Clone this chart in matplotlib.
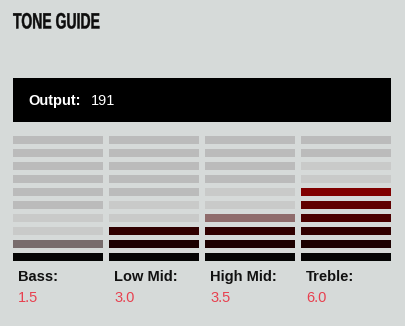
import numpy as np
import matplotlib
matplotlib.use('Agg')
import matplotlib.pyplot as plt
from matplotlib import patheffects
from matplotlib.transforms import Affine2D

# Tone settings shown on the panel
bands = ['Bass:', 'Low Mid:', 'High Mid:', 'Treble:']
levels = [1.5, 3.0, 3.5, 6.0]
output_value = 191
n_segments = 10

# segment colour for each level, bottom (1) to top (10)
level_colors = ['#050505', '#1c0000', '#300000', '#4a0000', '#600000',
                '#800000', '#990000', '#b00000', '#c80000', '#e00000']
BG = '#d6dad9'
DIM = '#bbbbbb'
NEAR = '#c9cac9'
RED_TXT = '#e8404f'


class Squeeze(patheffects.AbstractPathEffect):
    """Draw text narrower and a bit heavier (poor man's condensed bold)."""
    def __init__(self, sx, lw=0.3):
        super().__init__()
        self.sx = sx
        self.lw = lw

    def draw_path(self, renderer, gc, tpath, affine, rgbFace=None):
        aff = Affine2D().scale(self.sx, 1) + affine
        gc0 = renderer.new_gc()
        gc0.copy_properties(gc)
        gc0.set_linewidth(self.lw)
        gc0.set_foreground(rgbFace)
        renderer.draw_path(gc0, tpath, aff, rgbFace)
        gc0.restore()


W, H = 405, 326
fig = plt.figure(figsize=(W / 100, H / 100), dpi=100, facecolor=BG)
ax = fig.add_axes([0, 0, 1, 1])
ax.set_xlim(0, W)
ax.set_ylim(H, 0)
ax.axis('off')
ax.set_facecolor(BG)

# title
title = ax.text(13, 23, 'TONE GUIDE', fontsize=16, fontweight='bold',
                family='Liberation Sans', va='center', ha='left', color='#0d0d0d')
fig.canvas.draw()
tw = title.get_window_extent().width
title.set_path_effects([Squeeze(87.0 / tw)])

# output header box
ax.add_patch(plt.Rectangle((13, 78), 378, 44, color='black', lw=0))
ax.text(28, 101, 'Output:', fontsize=10.5, fontweight='bold', color='white',
        family='Liberation Sans', va='center', ha='left')
ax.text(91, 101, str(output_value), fontsize=10.5, color='white',
        family='Liberation Sans', va='center', ha='left')

col_x = [13, 109, 205, 301]
col_w = 90
seg_h = 8
pitch = 13
bottom_top = 253  # top edge of lowest segment

for x0, name, v in zip(col_x, bands, levels):
    for k in range(1, n_segments + 1):
        y = bottom_top - (k - 1) * pitch
        if k <= np.floor(v):
            c, a = level_colors[k - 1], 1.0
        elif k - 1 < v:
            c, a = level_colors[k - 1], 0.5
        elif k <= np.ceil(v) + 2:
            c, a = NEAR, 1.0
        else:
            c, a = DIM, 1.0
        ax.bar(x0, seg_h, width=col_w, bottom=y, align='edge', color=c, alpha=a, lw=0)
    ax.text(x0 + 5, 277, name, fontsize=10.5, fontweight='bold', color='#111111',
            family='Liberation Sans', va='center', ha='left')
    ax.text(x0 + 5, 298, f'{v:.1f}', fontsize=10.5, color=RED_TXT,
            family='Liberation Sans', va='center', ha='left')

fig.savefig('out.png', dpi=100, facecolor=BG)
